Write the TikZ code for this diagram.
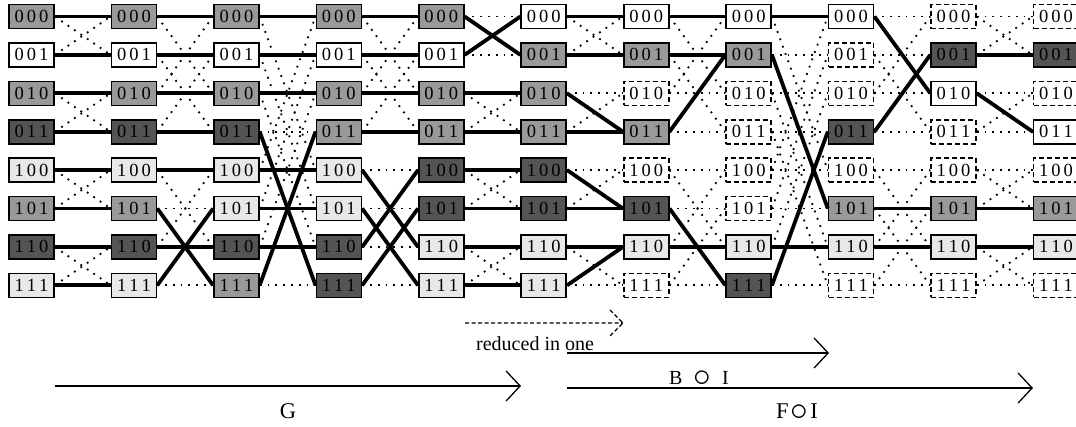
\documentclass[tikz,border=0pt]{standalone}
\usepackage{fontspec}
\setmainfont{Liberation Serif}
\usepackage{graphicx}
\usetikzlibrary{arrows.meta}
\definecolor{boxlight}{gray}{0.91}
\definecolor{boxmid}{gray}{0.6}
\definecolor{boxdark}{gray}{0.33}
\newcommand{\compose}{\raisebox{-2pt}{\scalebox{1.7}{$\circ$}}}
\tikzset{
  bit box/.style={
    draw,
    line width=1.6pt,
    minimum width=45pt,
    minimum height=24pt,
    inner sep=0pt,
    font=\fontsize{18.5}{18.5}\selectfont,
  },
  box-w/.style={bit box, fill=white},
  box-l/.style={bit box, fill=boxlight},
  box-m/.style={bit box, fill=boxmid},
  box-d/.style={bit box, fill=boxdark},
  box-x/.style={bit box, fill=white, dash pattern=on 5pt off 3pt},
  dotlink/.style={line width=1.8pt, dash pattern=on 1.8pt off 6pt},
  fatlink/.style={line width=3.8pt},
  stage arrow/.style={line width=1.3pt, -{Straight Barb[length=14pt,width=30pt]}},
  annotation/.style={font=\fontsize{22.5}{22.5}\selectfont},
}

\begin{document}
\begin{tikzpicture}[x=1pt, y=-1pt]
    \useasboundingbox (0,0) rectangle (1076,426);

    % columns of the network
    \foreach \c/\codes in {0/{m,w,m,d,l,m,d,l}, 1/{m,w,m,d,l,m,d,l},
                           2/{m,w,m,d,l,l,d,m}, 3/{m,w,m,m,l,l,d,d},
                           4/{m,w,m,m,d,d,l,l}, 5/{w,m,m,m,d,d,l,l},
                           6/{w,m,x,m,x,d,l,x}, 7/{w,m,x,x,x,x,l,d},
                           8/{w,x,x,d,x,m,l,x}, 9/{x,d,w,x,x,m,l,x},
                           10/{x,d,x,w,x,m,l,x}} {
      \foreach \s [count=\r from 0] in \codes {
        \pgfmathtruncatemacro\ba{floor(\r/4)}
        \pgfmathtruncatemacro\bb{mod(floor(\r/2),2)}
        \pgfmathtruncatemacro\bc{mod(\r,2)}
        \node [box-\s] (c\c-\r) at ({31.5+102.45*\c},{16.5+38.4*\r})
          {\ba\kern3pt\bb\kern3pt\bc};
      }
    }

    % every butterfly link, dotted
    \foreach \k [count=\j from 0] in {1,2,4,2,1,1,2,4,2,1} {
      \pgfmathtruncatemacro\nx{\j+1}
      \foreach \r in {0,...,7} {
        \pgfmathtruncatemacro\p{\r+\k*(1-2*mod(floor(\r/\k),2))}
        \draw [dotlink] (c\j-\r.east) -- (c\nx-\r.west);
        \draw [dotlink] (c\j-\r.east) -- (c\nx-\p.west);
      }
    }

    % links in use
    \foreach \j/\a/\b in {0/0/0, 0/1/1, 0/2/2, 0/3/3, 0/4/4, 0/5/5, 0/6/6, 0/7/7,
                          1/0/0, 1/1/1, 1/2/2, 1/3/3, 1/4/4, 1/5/7, 1/6/6, 1/7/5,
                          2/0/0, 2/1/1, 2/2/2, 2/3/7, 2/4/4, 2/5/5, 2/6/6, 2/7/3,
                          3/0/0, 3/1/1, 3/2/2, 3/3/3, 3/4/6, 3/5/7, 3/6/4, 3/7/5,
                          4/0/1, 4/1/0, 4/2/2, 4/3/3, 4/4/4, 4/5/5, 4/6/6, 4/7/7,
                          5/0/0, 5/1/1, 5/2/3, 5/3/3, 5/4/5, 5/5/5, 5/6/6, 5/7/6,
                          6/0/0, 6/1/1, 6/3/1, 6/5/7, 6/6/6,
                          7/0/0, 7/1/5, 7/6/6, 7/7/3,
                          8/0/2, 8/3/1, 8/5/5, 8/6/6,
                          9/1/1, 9/2/3, 9/5/5, 9/6/6} {
      \pgfmathtruncatemacro\nx{\j+1}
      \draw [fatlink] (c\j-\a.east) -- (c\nx-\b.west);
    }

    % stages below
    \coordinate (red-from) at (465,323);
    \coordinate (red-to) at (623,323);
    \coordinate (bi-from) at (567,353);
    \coordinate (bi-to) at (829,353);
    \coordinate (g-from) at (55,386);
    \coordinate (g-to) at (521,386);
    \coordinate (fi-from) at (567,388);
    \coordinate (fi-to) at (1033,388);

    \draw [line width=1.3pt, dash pattern=on 4pt off 2.5pt] (red-from) -- (red-to)
      (red-to) ++(-13,-13) -- (red-to) -- ++(-13,13);
    \draw [stage arrow] (bi-from) -- (bi-to);
    \draw [stage arrow] (g-from) -- (g-to);
    \draw [stage arrow] (fi-from) -- (fi-to);

    \node [font=\fontsize{20}{20}\selectfont, anchor=base west, inner sep=0pt] (red-label) at (476,350) {reduced in one};
    \node [font=\fontsize{20}{20}\selectfont, anchor=base, inner sep=0pt] (bi-label) at (699,384) {B\hspace{11pt}\compose\hspace{11pt}I};
    \node [annotation, anchor=base, inner sep=0pt] (g-label) at (288,418) {G};
    \node [annotation, anchor=base, inner sep=0pt] (fi-label) at (797,418) {F\hspace{2pt}\compose\hspace{2pt}I};
\end{tikzpicture}
\end{document}
